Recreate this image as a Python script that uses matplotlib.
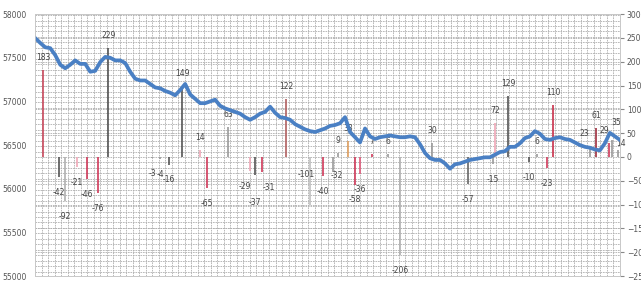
import numpy as np
import matplotlib
matplotlib.use('Agg')
import matplotlib.pyplot as plt
from matplotlib.ticker import MultipleLocator

# daily level (left axis)
level = [57725, 57670, 57620, 57610, 57530, 57420, 57380, 57420, 57470, 57430,
         57430, 57340, 57350, 57450, 57510, 57500, 57470, 57470, 57440, 57340,
         57260, 57240, 57240, 57200, 57160, 57150, 57120, 57100, 57070, 57130,
         57200, 57080, 57030, 56980, 56980, 57000, 57020, 56950, 56920, 56900,
         56880, 56860, 56820, 56790, 56820, 56860, 56880, 56940, 56870, 56820,
         56810, 56790, 56740, 56710, 56680, 56660, 56650, 56670, 56690, 56720,
         56730, 56750, 56820, 56650, 56590, 56530, 56690, 56600, 56570, 56590,
         56600, 56610, 56600, 56590, 56590, 56600, 56590, 56510, 56410, 56350,
         56330, 56330, 56290, 56230, 56280, 56290, 56310, 56330, 56340, 56350,
         56360, 56360, 56390, 56420, 56430, 56480, 56480, 56520, 56580, 56600,
         56660, 56630, 56570, 56560, 56580, 56590, 56570, 56560, 56530, 56500,
         56480, 56470, 56450, 56440, 56520, 56640, 56600, 56560]

# changes (right axis): day position, value, colour
chg_day = [1.6, 4.8, 6.0, 8.4, 10.4, 12.6, 14.6, 23.4, 25.0, 26.8,
           29.4, 33.0, 34.4, 38.6, 43.0, 44.0, 45.4, 50.2, 55.0, 57.6,
           59.6, 60.6, 62.6, 64.0, 65.0, 67.4, 70.6, 73.0, 79.4, 86.6,
           91.6, 92.0, 94.6, 98.8, 100.4, 102.4, 103.6, 111.0, 112.2, 114.8,
           115.4, 116.6]
chg_val = [183, -42, -92, -21, -46, -76, 229, -3, -4, -16,
           149, 14, -65, 63, -29, -37, -31, 122, -101, -40,
           -32, 9, 33, -58, -36, 7, 6, -206, 30, -57,
           -15, 72, 129, -10, 6, -23, 110, 23, 61, 29,
           35, 14]
chg_col = ['#c94a5e', '#555555', '#b0b0b0', '#f0a8b8', '#d03a5a', '#d03a5a', '#555555', '#999999', '#999999', '#555555',
           '#555555', '#f0a8b8', '#d03a5a', '#999999', '#f0a8b8', '#555555', '#d03a5a', '#b06060', '#c0c0c0', '#d03a5a',
           '#999999', '#999999', '#e0a060', '#d03a5a', '#e05a7a', '#d03a5a', '#999999', '#b0b0b0', '#999999', '#666666',
           '#999999', '#f0a8b8', '#555555', '#555555', '#999999', '#d03a5a', '#c8304a', '#999999', '#a03040', '#d03a5a',
           '#999999', '#999999']

# nudges (points) for labels that would collide
nudge = {14: (-4, 0), 15: (0, -9), 16: (5, 0), 18: (-3, 33), 20: (3, 9),
         37: (-4, 0), 39: (-3, 0), 40: (3, 4), 41: (2, -4)}

fig, ax2 = plt.subplots(figsize=(6.41, 2.82), dpi=100)
fig.subplots_adjust(left=0.055, right=0.967, bottom=0.021, top=0.95)
ax = ax2.twinx()
# keep the level line in front of the bars
ax.set_zorder(ax2.get_zorder() + 1)
ax.patch.set_visible(False)

# swap sides: level on left, changes on right
ax.yaxis.tick_left()
ax.yaxis.set_label_position('left')
ax2.yaxis.tick_right()

x = np.arange(len(level))
ax.plot(x, level, color='#4a80c4', lw=2.7, solid_joinstyle='round')
ax.set_ylim(55000, 58000)
ax.set_yticks(np.arange(55000, 58001, 500))
ax.set_xlim(0, len(level) - 1)

for i, (d, v, c) in enumerate(zip(chg_day, chg_val, chg_col)):
    ax2.vlines(d, 0, v, color=c, lw=1.2)
    dx, dy = nudge.get(i, (0, 0))
    off = 9 if v > 0 else -11
    ax2.annotate(str(v), (d, v), xytext=(dx, off + dy), textcoords='offset points',
                 ha='center', va='center', fontsize=5.5, color='#444444')
ax2.set_ylim(-250, 300)
ax2.set_yticks(np.arange(-250, 301, 50))
ax2.set_xlim(0, len(level) - 1)

# dense dashed grid like the spreadsheet chart
ax2.xaxis.set_major_locator(MultipleLocator(1.3))
ax2.yaxis.set_minor_locator(MultipleLocator(550 / 48))
ax2.grid(True, which='both', color='#b0b0b0', lw=0.6, ls=(0, (2, 1)))
ax2.set_axisbelow(True)

for a in (ax, ax2):
    a.set_xticklabels([])
    a.tick_params(axis='x', length=0)
    for s in a.spines.values():
        s.set_color('#c8c8c8')
        s.set_linewidth(0.6)
ax.tick_params(axis='y', labelsize=5.5, labelcolor='#555555', length=0, pad=6)
ax2.tick_params(axis='y', which='major', labelsize=5.5, labelcolor='#555555', length=3, color='#888888', pad=2)
ax2.tick_params(axis='y', which='minor', length=0)

fig.savefig('out.png', dpi=100)
